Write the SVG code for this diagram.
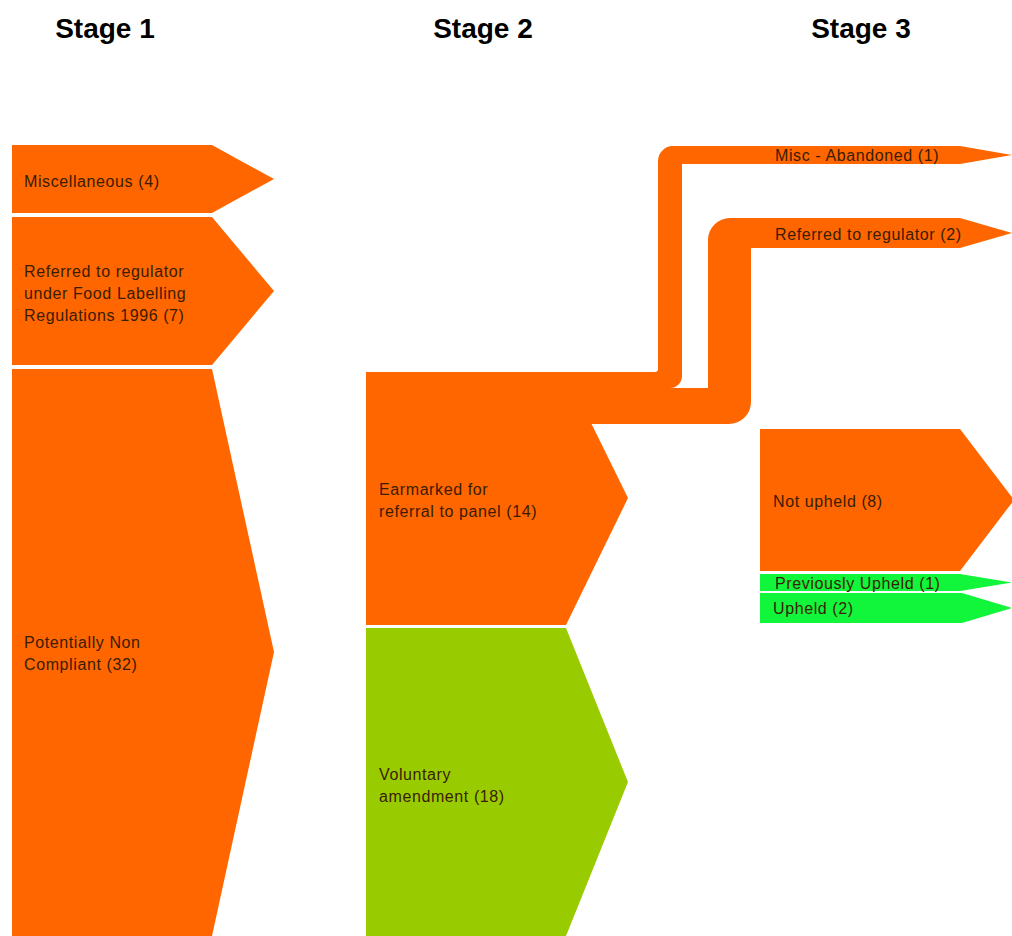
<svg xmlns="http://www.w3.org/2000/svg" width="1012" height="936" viewBox="0 0 1012 936">
<style>
.o{fill:#FF6600}
.g{fill:#99CC00}
.b{fill:#11F53A}
.lbl{font-family:"Liberation Sans",Arial,sans-serif;font-size:16px;letter-spacing:0.6px;fill:#3a1c00}
.hd{font-family:"Liberation Sans",Arial,sans-serif;font-size:28px;font-weight:bold;fill:#000;text-anchor:middle}
</style>
<rect width="1012" height="936" fill="#fff"/>
<g id="headers">
<text class="hd" x="105" y="38">Stage 1</text>
<text class="hd" x="483" y="38">Stage 2</text>
<text class="hd" x="861" y="38">Stage 3</text>
</g>
<g id="n-misc">
<polygon class="o" points="12,145 212,145 274,179 212,213 12,213"/>
<text class="lbl" x="24" y="187">Miscellaneous (4)</text>
</g>
<g id="n-referred">
<polygon class="o" points="12,217 212,217 274,291 212,365 12,365"/>
<text class="lbl" x="24" y="277">Referred to regulator</text>
<text class="lbl" x="24" y="299">under Food Labelling</text>
<text class="lbl" x="24" y="321">Regulations 1996 (7)</text>
</g>
<g id="n-pnc">
<polygon class="o" points="12,369 212,369 274,652 212,936 12,936"/>
<text class="lbl" x="24" y="648">Potentially Non</text>
<text class="lbl" x="24" y="670">Compliant (32)</text>
</g>
<g id="n-earmarked">
<polygon class="o" points="366,372 566,372 628,498 566,625 366,625"/>
<text class="lbl" x="379" y="495">Earmarked for</text>
<text class="lbl" x="379" y="517">referral to panel (14)</text>
</g>
<g id="n-voluntary">
<polygon class="g" points="366,628 566,628 628,782 566,936 366,936"/>
<text class="lbl" x="379" y="780">Voluntary</text>
<text class="lbl" x="379" y="802">amendment (18)</text>
</g>
<g id="connectors">
<path class="o" d="M560 372 H655 Q658 372 658 369 V161 A15 15 0 0 1 673 146 H960 L1012 155 L960 164 H682 V376 A12 12 0 0 1 670 388 H560 Z"/>
<path class="o" d="M560 388 H708 V240 A22 22 0 0 1 730 218 H960 L1012 233 L960 248 H751 V402 A22 22 0 0 1 729 424 H560 Z"/>
</g>
<g id="n-abandoned">
<text class="lbl" x="775" y="161">Misc - Abandoned (1)</text>
</g>
<g id="n-regulator">
<text class="lbl" x="775" y="240">Referred to regulator (2)</text>
</g>
<g id="n-notupheld">
<polygon class="o" points="760,429 960,429 1014,500 960,571 760,571"/>
<text class="lbl" x="773" y="507">Not upheld (8)</text>
</g>
<g id="n-prevupheld">
<polygon class="b" points="760,574 960,574 1012,582.5 960,591 760,591"/>
<text class="lbl" x="775" y="589">Previously Upheld (1)</text>
</g>
<g id="n-upheld">
<polygon class="b" points="760,593 962,593 1012,608 962,623 760,623"/>
<text class="lbl" x="773" y="614">Upheld (2)</text>
</g>
</svg>
